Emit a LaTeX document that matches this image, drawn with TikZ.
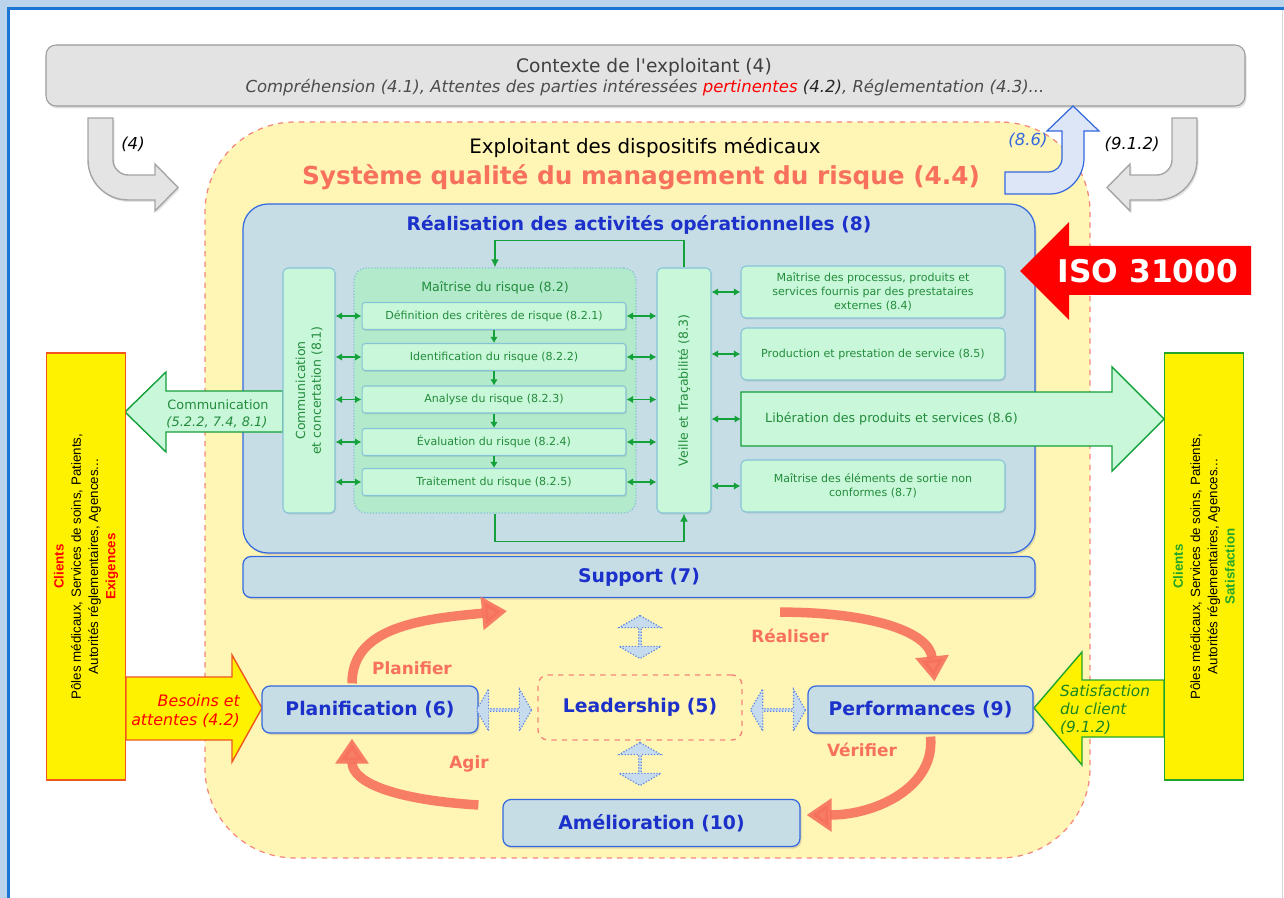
\documentclass[tikz,border=0pt]{standalone}
\usepackage{fontspec}
\setmainfont{DejaVu Sans}
\newfontfamily\arialfont{Liberation Sans}
\usetikzlibrary{positioning, arrows.meta, calc, shapes.arrows, shadows}

\definecolor{framelight}{HTML}{BCD3EC}
\definecolor{frameblue}{HTML}{1C74D4}
\definecolor{ctxfill}{HTML}{E3E3E3}
\definecolor{ctxline}{HTML}{9C9C9C}
\definecolor{bgyellow}{HTML}{FFF5B5}
\definecolor{dashsalmon}{HTML}{F3877A}
\definecolor{bluefill}{HTML}{C6DDE6}
\definecolor{blueline}{HTML}{3468DF}
\definecolor{titleblue}{HTML}{1B31CA}
\definecolor{mint}{HTML}{C9F7D9}
\definecolor{mintdark}{HTML}{B2EACB}
\definecolor{mintline}{HTML}{86C3D6}
\definecolor{textgreen}{HTML}{238C3C}
\definecolor{linkgreen}{HTML}{14A03A}
\definecolor{salmon}{HTML}{F7715C}
\definecolor{isored}{HTML}{FF0000}
\definecolor{clientyellow}{HTML}{FFF200}
\definecolor{clientred}{HTML}{F0561E}
\definecolor{clientgreen}{HTML}{22A52A}
\definecolor{grayarrow}{HTML}{E4E4E4}
\definecolor{grayarrowline}{HTML}{A5A5A5}
\definecolor{arrowblue}{HTML}{DCE6F6}
\definecolor{dblfill}{HTML}{C6DCEE}

\begin{document}
\begin{tikzpicture}[
    x=0.02cm, y=-0.02cm,
    % Style for the gray context box
    ctxbox/.style={
        rectangle,
        rounded corners=0.2cm,
        draw=ctxline,
        fill=ctxfill,
        line width=0.6pt,
        drop shadow={opacity=0.25, shadow xshift=0.03cm, shadow yshift=-0.05cm}
    },
    % Style for the blue boxes
    bluebox/.style={
        rectangle,
        rounded corners=0.16cm,
        draw=blueline,
        fill=bluefill,
        line width=0.7pt,
        text=titleblue,
        font=\bfseries\fontsize{10.7}{12}\selectfont,
        drop shadow={opacity=0.25, shadow xshift=0.03cm, shadow yshift=-0.04cm}
    },
    % Style for the green boxes
    mintbox/.style={
        rectangle,
        rounded corners=0.1cm,
        draw=mintline,
        fill=mint,
        line width=0.6pt,
        text=textgreen,
        align=center,
        font=\fontsize{6.3}{8}\selectfont,
        drop shadow={opacity=0.2, shadow xshift=0.02cm, shadow yshift=-0.03cm}
    },
    stepbox/.style={mintbox, rounded corners=0.06cm, minimum width=5.28cm, minimum height=0.54cm},
    clientbox/.style={rectangle, fill=clientyellow, line width=1pt, minimum width=1.58cm, minimum height=8.54cm},
    clienttext/.style={rotate=90, align=center, font=\arialfont\fontsize{7.6}{9.8}\selectfont},
    link/.style={{Latex[length=0.13cm,width=0.15cm]}-{Latex[length=0.13cm,width=0.15cm]}, draw=linkgreen, line width=1pt},
    down/.style={-{Latex[length=0.12cm,width=0.15cm]}, draw=linkgreen, line width=1pt},
    feed/.style={-{Latex[length=0.16cm,width=0.16cm]}, draw=linkgreen, line width=0.9pt},
    cyclearrow/.style={draw=salmon, line width=0.19cm, -{Triangle[length=0.5cm,width=0.64cm]}, opacity=0.9},
    cyclelabel/.style={text=salmon, font=\bfseries\fontsize{9.6}{11}\selectfont},
    refnum/.style={font=\itshape\fontsize{9.4}{11}\selectfont},
    dblarrow/.style={
        double arrow,
        draw=blueline!80,
        densely dotted,
        line width=0.7pt,
        fill=dblfill,
        minimum width=0.84cm,
        minimum height=1.1cm,
        double arrow head extend=0.2cm,
        double arrow tip angle=120,
        inner sep=0pt
    },
    grayarrowstyle/.style={fill=grayarrow, draw=grayarrowline, line width=0.8pt,
        drop shadow={opacity=0.2, shadow xshift=0.03cm, shadow yshift=-0.04cm}}
]

    % --- Settings ---
    \def\px{0.02cm}
    \useasboundingbox (0,0) rectangle (1284,898);

    % --- Frame ---
    \fill[framelight] (0,0) rectangle (1284,898);
    \fill[white] (10,10) rectangle (1284,898);
    \draw[frameblue, line width=3*\px] (8.5,898) -- (8.5,8.5) -- (1284,8.5);
    \draw[black!15] (1282.5,10) -- (1282.5,898);

    % --- Context of the operator ---
    \node[ctxbox, minimum width=1199*\px, minimum height=61*\px] (ctx) at (645.5,75.5) {};
    \node[text=black!75, font=\fontsize{10.6}{12}\selectfont] (ctxtitle) at (644,67)
        {Contexte de l\textquotesingle exploitant (4)};
    \node[text=black!70, font=\itshape\fontsize{9.4}{11}\selectfont] (ctxsub) at (645,88)
        {Compréhension (4.1), Attentes des parties intéressées \textcolor{red}{pertinentes} \textcolor{black!85}{(4.2)}, Réglementation (4.3)...};

    % gray bent arrows (left one, then its mirror)
    \draw[grayarrowstyle] (88,118) -- (113,118) -- (113,160) .. controls (113,168) and (120,175) .. (128,175)
        -- (155,175) -- (155,164) -- (178,187.5) -- (155,211) -- (155,200) -- (128,200)
        .. controls (106,200) and (88,182) .. (88,160) -- cycle;
    \begin{scope}[shift={(1285,0)}, xscale=-1]
        \draw[grayarrowstyle] (88,118) -- (113,118) -- (113,160) .. controls (113,168) and (120,175) .. (128,175)
            -- (155,175) -- (155,164) -- (178,187.5) -- (155,211) -- (155,200) -- (128,200)
            .. controls (106,200) and (88,182) .. (88,160) -- cycle;
    \end{scope}
    \node[refnum] (ref4) at (133,144) {(4)};
    \node[refnum] (ref912) at (1132,144) {(9.1.2)};

    % --- Operator area ---
    \node[draw=dashsalmon, dashed, fill=bgyellow, rounded corners=1.8cm, line width=0.7pt,
          minimum width=885*\px, minimum height=736*\px] (exploitant) at (647.5,490) {};
    \node[font=\fontsize{11.3}{13}\selectfont] (exptitle) at (645,148) {Exploitant des dispositifs médicaux};
    \node[text=salmon, font=\bfseries\fontsize{14.1}{16}\selectfont] (sysqual) at (641,177)
        {Système qualité du management du risque (4.4)};

    % blue arrow (8.6) back to context
    \draw[fill=arrowblue, draw=blueline, line width=0.7pt] (1005,172) -- (1048,172)
        .. controls (1056,172) and (1062,166) .. (1062,158) -- (1062,131) -- (1047,131) -- (1073,106)
        -- (1099,131) -- (1084,131) -- (1084,158) .. controls (1084,177) and (1069,194) .. (1050,194)
        -- (1005,194) -- cycle;
    \node[refnum, text=blueline] (ref86) at (1028,140) {(8.6)};

    % --- Operational activities ---
    \node[bluebox, rounded corners=0.5cm, minimum width=792*\px, minimum height=349*\px] (realisation) at (639,378.5) {};
    \node[text=titleblue, font=\bfseries\fontsize{10.6}{12}\selectfont] (realtitle) at (639,225)
        {Réalisation des activités opérationnelles (8)};
    \node[bluebox, minimum width=792*\px, minimum height=41*\px] (support) at (639,577) {Support (7)};

    % ISO arrow
    \fill[isored] (1020,271) -- (1069,222) -- (1069,246) -- (1251,246) -- (1251,295) -- (1069,295) -- (1069,320) -- cycle;
    \node[text=white, font=\bfseries\fontsize{17.8}{20}\selectfont] (iso) at (1148,271) {ISO 31000};

    % communication arrow to the clients
    \draw[fill=mint, draw=linkgreen, line width=0.8pt] (283,391) -- (166,391) -- (166,372) -- (125,412)
        -- (166,452) -- (166,432) -- (283,432) -- cycle;
    \node[text=textgreen, font=\fontsize{7.3}{9}\selectfont] (commlbl) at (218,405) {Communication};
    \node[text=textgreen, font=\itshape\fontsize{7.4}{9}\selectfont] (commref) at (217,422) {(5.2.2, 7.4, 8.1)};

    % release arrow to the clients
    \draw[fill=mint, draw=linkgreen, line width=0.8pt] (741,392) -- (1112,392) -- (1112,367) -- (1164,419)
        -- (1112,471) -- (1112,446) -- (741,446) -- cycle;
    \coordinate (liberin) at (741,419);
    \node[anchor=west, text=textgreen, font=\fontsize{7.2}{9}\selectfont] (liber) at (759,419)
        {Libération des produits et services (8.6)};

    % communication and monitoring columns
    \node[mintbox, minimum width=52*\px, minimum height=245*\px] (comm) at (309,390.5) {};
    \node[rotate=90, text=textgreen, align=center, font=\fontsize{7.1}{9}\selectfont] (commtxt) at (comm)
        {Communication\\et concertation (8.1)};
    \node[mintbox, minimum width=54*\px, minimum height=245*\px] (veille) at (684,390.5) {};
    \node[rotate=90, text=textgreen, font=\fontsize{7.1}{9}\selectfont] (veilletxt) at (veille)
        {Veille et Traçabilité (8.3)};

    % --- Risk control ---
    \node[rectangle, rounded corners=0.25cm, fill=mintdark, draw=mintline, densely dotted, line width=0.7pt,
          minimum width=282*\px, minimum height=245*\px] (risk) at (495,390.5) {};
    \node[text=textgreen, font=\fontsize{7.2}{9}\selectfont] (risktitle) at (495,288) {Maîtrise du risque (8.2)};

    \foreach \n/\y/\txt in {1/316/{Définition des critères de risque (8.2.1)},
                           2/357/{Identification du risque (8.2.2)},
                           3/399.5/{Analyse du risque (8.2.3)},
                           4/442/{Évaluation du risque (8.2.4)},
                           5/482/{Traitement du risque (8.2.5)}} {
        \node[stepbox] (step\n) at (494,\y) {\txt};
        \draw[link] (comm.east |- step\n) -- (step\n.west);
        \draw[link] (step\n.east) -- (veille.west |- step\n);
    }
    \foreach \a/\b in {1/2,2/3,3/4,4/5}
        \draw[down] (step\a.south) -- (step\b.north);

    % feedback loops
    \draw[feed] (veille.north) -- ++(0,-27) -| (risk.north);
    \draw[feed] (risk.south) -- ++(0,28) -| (veille.south);

    % --- Right column ---
    \node[mintbox, minimum width=264*\px, minimum height=52*\px] (ext) at (873,292)
        {Maîtrise des processus, produits et\\services fournis par des prestataires\\externes (8.4)};
    \node[mintbox, minimum width=264*\px, minimum height=52*\px] (prod) at (873,354)
        {Production et prestation de service (8.5)};
    \node[mintbox, minimum width=264*\px, minimum height=52*\px] (nonconf) at (873,486)
        {Maîtrise des éléments de sortie non\\conformes (8.7)};
    \draw[link] (veille.east |- ext) -- (ext.west);
    \draw[link] (veille.east |- prod) -- (prod.west);
    \draw[link] (veille.east |- liberin) -- (liberin);
    \draw[link] (veille.east |- nonconf) -- (nonconf.west);

    % --- Clients ---
    \draw[fill=clientyellow, draw=clientred, line width=0.8pt] (126,677) -- (232,677) -- (232,655) -- (262,708)
        -- (232,762) -- (232,740) -- (126,740) -- cycle;
    \node[anchor=east, align=right, text=red, font=\itshape\fontsize{9}{10.5}\selectfont] (besoins) at (246,711)
        {Besoins et\\attentes (4.2)};
    \node[clientbox, draw=clientred] (clientsL) at (86,566.5) {};
    \node[clienttext] (clientsLtxt) at (clientsL)
        {\textcolor{red}{\textbf{Clients}}\\Pôles médicaux, Services de soins, Patients,\\Autorités réglementaires, Agences...\\\textcolor{red}{\textbf{Exigences}}};

    \draw[fill=clientyellow, draw=clientgreen, line width=0.8pt] (1164,680) -- (1082,680) -- (1082,652) -- (1034,708)
        -- (1082,765) -- (1082,737) -- (1164,737) -- cycle;
    \node[anchor=west, align=left, text=clientgreen!80!black, font=\itshape\fontsize{8.7}{10.3}\selectfont] (satisf) at (1054,710)
        {Satisfaction\\du client\\(9.1.2)};
    \node[clientbox, draw=clientgreen] (clientsR) at (1204,566.5) {};
    \node[clienttext] (clientsRtxt) at (clientsR)
        {\textcolor{clientgreen}{\textbf{Clients}}\\Pôles médicaux, Services de soins, Patients,\\Autorités réglementaires, Agences...\\\textcolor{clientgreen}{\textbf{Satisfaction}}};

    % --- PDCA cycle ---
    \node[bluebox, minimum width=216*\px, minimum height=47*\px] (plan) at (370,709.5) {Planification (6)};
    \node[rectangle, rounded corners=0.2cm, draw=dashsalmon, dashed, fill=bgyellow, line width=0.8pt,
          text=titleblue, font=\bfseries\fontsize{10.7}{12}\selectfont,
          minimum width=204*\px, minimum height=65*\px] (lead) at (640,707.5) {Leadership (5)};
    \node[bluebox, minimum width=225*\px, minimum height=47*\px] (perf) at (920.5,709.5) {Performances (9)};
    \node[bluebox, minimum width=297*\px, minimum height=47*\px] (amelio) at (651.5,823) {Amélioration (10)};

    \node[dblarrow] (dblL) at (504,710) {};
    \node[dblarrow] (dblR) at (778,710) {};
    \node[dblarrow, rotate=90, minimum height=0.86cm] (dblT) at (640,637) {};
    \node[dblarrow, rotate=90, minimum height=0.86cm] (dblB) at (640,764) {};

    \draw[cyclearrow] ($(plan.north)+(-18,-2)$) .. controls +(0,-55) and +(-90,8) .. ($(support.south)+(-132,13)$);
    \draw[cyclearrow] ($(support.south)+(141,14)$) .. controls +(90,0) and +(-5,-50) .. ($(perf.north)+(14,-4)$);
    \draw[cyclearrow] ($(perf.south)+(10,3)$) .. controls +(5,50) and +(70,0) .. ($(amelio.east)+(6,-8)$);
    \draw[cyclearrow] ($(amelio.west)+(-24,-18)$) .. controls +(-80,-5) and +(0,45) .. ($(plan.south)+(-18,5)$);

    \node[cyclelabel] (planifier) at (412,668) {Planifier};
    \node[cyclelabel] (realiser) at (790,636) {Réaliser};
    \node[cyclelabel] (verifier) at (862,750) {Vérifier};
    \node[cyclelabel] (agir) at (469,764) {Agir};

\end{tikzpicture}
\end{document}
